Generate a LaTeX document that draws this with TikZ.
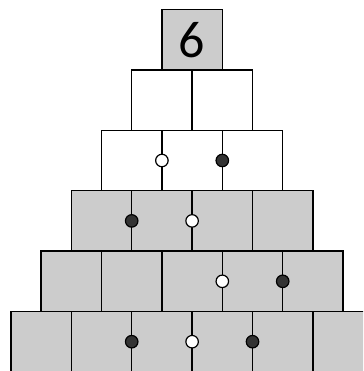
\documentclass[tikz,border=0pt]{standalone}
\usepackage{fontspec}
\setmainfont{Carlito}
\definecolor{cellgray}{HTML}{CCCCCC}
\definecolor{dotdark}{HTML}{333333}
\begin{document}
\begin{tikzpicture}[x=1pt,y=-1pt,
  cell/.style={minimum size=60.4pt, inner sep=0pt, outer sep=0pt, anchor=north west},
  graycell/.style={cell, fill=cellgray},
  whitecell/.style={cell, fill=white},
  border/.style={draw=black, line width=1.4pt},
  dotbase/.style={circle, draw=black, line width=1.2pt, minimum size=12.5pt, inner sep=0pt},
  wdot/.style={dotbase, fill=white},
  bdot/.style={dotbase, fill=dotdark}]
\useasboundingbox (0,0) rectangle (363,371);
\clip (0,0) rectangle (363,371);
\def\s{60.4}
\foreach \r/\st in {0/graycell,1/whitecell,2/whitecell,3/graycell,4/graycell,5/graycell}{
  \pgfmathtruncatemacro{\last}{\r}
  \foreach \i in {0,...,\last}{
    \node[\st] (b-\r-\i) at ({192.1-(\r+1)*\s/2+\i*\s},{9.5+\r*\s}) {};
  }
}
\foreach \r in {0,...,5}{
  \pgfmathtruncatemacro{\last}{\r}
  \foreach \i in {0,...,\last}{
    \draw[border] (b-\r-\i.north west) rectangle (b-\r-\i.south east);
  }
}
\node[font=\fontsize{52}{52}\selectfont] (six) at (b-0-0.center) {6};
% dots
\node[wdot] (d20) at (b-2-0.east) {};
\node[bdot] (d21) at (b-2-1.east) {};
\node[bdot] (d30) at (b-3-0.east) {};
\node[wdot] (d31) at (b-3-1.east) {};
\node[wdot] (d42) at (b-4-2.east) {};
\node[bdot] (d43) at (b-4-3.east) {};
\node[bdot] (d51) at (b-5-1.east) {};
\node[wdot] (d52) at (b-5-2.east) {};
\node[bdot] (d53) at (b-5-3.east) {};
\end{tikzpicture}
\end{document}
